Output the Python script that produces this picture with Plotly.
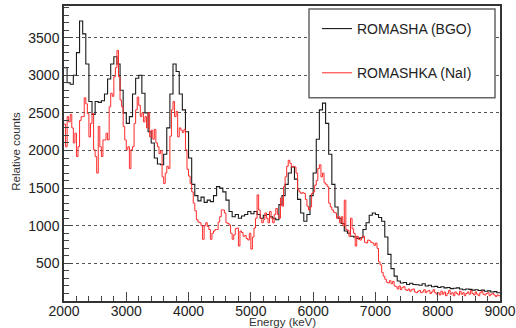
import numpy as np
import plotly.graph_objects as go

# ---------------- data ----------------
bgo_start_kev = 2000
bgo_bin_kev = 50
bgo_counts = [
    3100, 2900, 2880, 3000, 3300, 3720, 3550, 3150, 2650, 2480,
    2650, 2640, 2660, 2750, 2950, 3150, 3245, 3150, 2800, 2500,
    2360, 2450, 2750, 2960, 3000, 2760, 2500, 2250, 2100, 1900,
    1820, 1810, 1950, 2300, 2750, 3150, 3050, 2750, 2540, 2250,
    1900, 1550, 1400, 1330, 1380, 1310, 1340, 1320, 1400, 1520,
    1500, 1450, 1340, 1190, 1120, 1150, 1100, 1130, 1150, 1190,
    1160, 1190, 1150, 1100, 1140, 1150, 1120, 1100, 1080, 1280,
    1400, 1550, 1700, 1780, 1620, 1350, 1170, 1060, 1150, 1400,
    1700, 2150, 2540, 2630, 2360, 1950, 1550, 1250, 1100, 1030,
    930, 900, 860, 850, 830, 840, 950, 1040, 1140, 1170,
    1150, 1110, 1060, 850, 620, 430, 330, 265, 240, 245,
    220, 235, 220, 215, 210, 230, 200, 210, 190, 195,
    180, 190, 175, 180, 165, 170, 175, 160, 150, 160,
    155, 145, 150, 140, 145, 130, 135, 120, 125, 110,
]

nai_start_kev = 2000
nai_bin_kev = 25
nai_counts = [
    2350, 2050, 2450, 2380, 2480, 2300, 2100, 2230, 1920, 2050, 2400, 2450, 2450, 2700, 2620, 2490, 2180, 2360, 2490, 2010,
    1920, 1700, 2320, 2050, 1920, 2140, 2140, 2230, 2140, 2580, 2760, 2720, 2980, 3100, 3330, 2980, 2670, 2580, 2320, 2140,
    2010, 2050, 1760, 2010, 2050, 2360, 2540, 2710, 2600, 2450, 2500, 2380, 2450, 2300, 2500, 2180, 2270, 2150, 2280, 2100,
    2050, 1960, 2000, 1650, 1560, 1700, 1790, 1760, 2190, 2540, 2650, 2450, 2520, 2180, 2300, 2270, 2240, 2280, 2010, 1750,
    1660, 1560, 1450, 1300, 1200, 1080, 1050, 1040, 1000, 820, 1000, 1040, 990, 950, 820, 900, 930, 950, 950, 1050,
    1120, 1210, 1210, 1170, 1040, 1030, 1010, 900, 820, 880, 960, 970, 730, 930, 910, 860, 870, 830, 810, 900,
    690, 850, 970, 1100, 1410, 1210, 1100, 1040, 1080, 1170, 1100, 1040, 1190, 1100, 1040, 1150, 1230, 1150, 1100, 1370,
    1260, 1520, 1650, 1790, 1870, 1830, 1780, 1790, 1780, 1700, 1480, 1450, 1430, 1440, 1430, 1350, 1260, 1210, 1250, 1430,
    1450, 1540, 1600, 1760, 1810, 1650, 1700, 1570, 1550, 1520, 1300, 1250, 1210, 1180, 1170, 1100, 1120, 1040, 1120, 1000,
    1340, 950, 940, 860, 1100, 960, 900, 730, 860, 820, 810, 850, 860, 780, 770, 810, 800, 780, 770, 740,
    770, 700, 520, 480, 380, 330, 290, 250, 240, 270, 230, 260, 200, 190, 160, 200, 150, 180, 190, 150,
    140, 160, 130, 150, 160, 120, 110, 130, 140, 110, 120, 150, 110, 130, 140, 100, 120, 150, 110, 90,
    110, 80, 130, 90, 120, 70, 100, 140, 90, 110, 70, 120, 100, 80, 130, 90, 110, 70, 100, 120,
    90, 140, 100, 80, 120, 90, 70, 110, 130, 90, 80, 100, 110, 70, 90, 100, 80, 60, 80, 70,
]

x_tick_vals = [2000, 3000, 4000, 5000, 6000, 7000, 8000, 9000]
x_tick_text = ["2000", "3000", "4000", "5000", "6000", "7000", "8000", "9000"]
y_tick_vals = [500, 1000, 1500, 2000, 2500, 3000, 3500]
y_tick_text = ["500", "1000", "1500", "2000", "2500", "3000", "3500"]

series_names = ["ROMASHA (BGO)", "ROMASHKA (NaI)"]
series_colors = ["#1a1a1a", "#ff2a2a"]


def step_xy(start, width, counts):
    edges = start + width * np.arange(len(counts) + 1)
    return edges, list(counts) + [counts[-1]]


fig = go.Figure()
bx, by = step_xy(bgo_start_kev, bgo_bin_kev, bgo_counts)
nx, ny = step_xy(nai_start_kev, nai_bin_kev, nai_counts)

fig.add_trace(go.Scatter(x=bx, y=by, mode="lines", line=dict(shape="hv", color=series_colors[0], width=1.1),
                         name=series_names[0], legendgroup="a"))
fig.add_trace(go.Scatter(x=nx, y=ny, mode="lines", line=dict(shape="hv", color=series_colors[1], width=1),
                         name=series_names[1], legendgroup="b"))

W, H = 516, 328
ml, mr, mt, mb = 64, 16, 6, 26.5
pw, ph = W - ml - mr, H - mt - mb


def px_x(p):
    return (p - ml) / pw


def px_y(p):
    return (H - mb - p) / ph


font_family = "Liberation Sans, Arial, Helvetica, sans-serif"

fig.update_layout(
    width=W, height=H,
    margin=dict(l=ml, r=mr, t=mt, b=mb, autoexpand=False),
    paper_bgcolor="white", plot_bgcolor="white",
    font=dict(family=font_family, color="#222", size=14),
    showlegend=True,
    legend=dict(x=px_x(317), y=px_y(13), xanchor="left", yanchor="top",
                bgcolor="rgba(0,0,0,0)", borderwidth=0,
                font=dict(size=14, color="#222"), tracegroupgap=23,
                traceorder="grouped"),
    xaxis=dict(range=[2000, 9000], tickvals=x_tick_vals, ticktext=x_tick_text,
               ticks="inside", ticklen=9, tickwidth=1.2, tickcolor="#444",
               minor=dict(dtick=200, tick0=2000, ticks="inside", ticklen=5, tickwidth=1, tickcolor="#444"),
               showline=True, linecolor="#333", linewidth=1.5, mirror=True, automargin=False,
               ticklabelstandoff=-4,
               showgrid=False, zeroline=False, tickfont=dict(size=14, color="#222")),
    yaxis=dict(range=[0, 3920], tickvals=y_tick_vals, ticktext=y_tick_text,
               ticks="inside", ticklen=9, tickwidth=1.2, tickcolor="#444",
               minor=dict(dtick=100, tick0=0, ticks="inside", ticklen=5, tickwidth=1, tickcolor="#444"),
               showline=True, linecolor="#333", linewidth=1.5, mirror=True, automargin=False,
               showgrid=True, gridcolor="#555", griddash="dot", gridwidth=1,
               zeroline=False, tickfont=dict(size=14, color="#222")),
    shapes=[dict(type="rect", xref="paper", yref="paper",
                 x0=px_x(309), x1=px_x(495), y0=px_y(98), y1=px_y(9),
                 fillcolor="white", line=dict(color="#666", width=1.5), layer="above")],
    annotations=[
        dict(text="Energy (keV)", xref="paper", yref="paper", x=px_x(282), y=px_y(322.5),
             xanchor="center", yanchor="middle", showarrow=False, font=dict(size=11.5, color="#333")),
        dict(text="Relative counts", xref="paper", yref="paper", x=px_x(16), y=px_y(152),
             xanchor="center", yanchor="middle", showarrow=False, textangle=-90,
             font=dict(size=11.5, color="#333")),
    ],
)

fig.write_html("out.html", config={"displayModeBar": False},
               post_script="document.body.style.margin='0';document.body.style.padding='0';")
